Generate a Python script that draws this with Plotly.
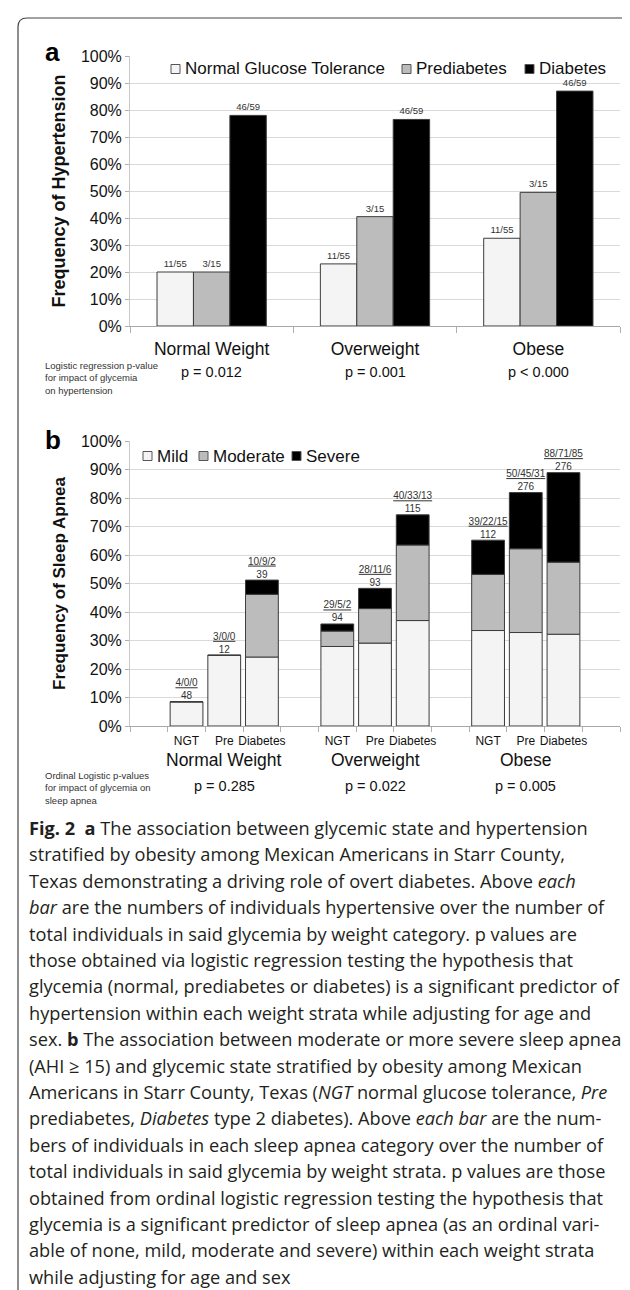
import plotly.graph_objects as go

W, H = 630, 1290

# ---------------- data: panel a ----------------
weight_cats = ["Normal Weight", "Overweight", "Obese"]
glyc_names = ["Normal Glucose Tolerance", "Prediabetes", "Diabetes"]
htn_ngt = [20.0, 23.0, 32.5]
htn_pre = [20.0, 40.5, 49.5]
htn_dm = [78.0, 76.5, 87.0]
htn_lbl_ngt = ["11/55", "11/55", "11/55"]
htn_lbl_pre = ["3/15", "3/15", "3/15"]
htn_lbl_dm = ["46/59", "46/59", "46/59"]
p_a = ["p = 0.012", "p = 0.001", "p < 0.000"]

# ---------------- data: panel b ----------------
sub_labels = ["NGT", "Pre", "Diabetes"]
severity_names = ["Mild", "Moderate", "Severe"]
apnea_mild = [8.5, 24.8, 24.2, 27.9, 29.1, 37.0, 33.5, 32.8, 32.2]
apnea_mod = [0.0, 0.0, 22.0, 5.4, 12.1, 26.5, 19.7, 29.4, 25.3]
apnea_sev = [0.0, 0.0, 5.0, 2.5, 7.1, 10.6, 12.0, 19.7, 31.4]
apnea_counts = ["4/0/0", "3/0/0", "10/9/2", "29/5/2", "28/11/6", "40/33/13",
                "39/22/15", "50/45/31", "88/71/85"]
apnea_totals = ["48", "12", "39", "94", "93", "115", "112", "276", "276"]
p_b = ["p = 0.285", "p = 0.022", "p = 0.005"]

# ---------------- styling ----------------
FONT = "Liberation Sans, Arial, sans-serif"
CAP_FONT = "Open Sans, Noto Sans, sans-serif"
C_LIGHT = "#f3f4f3"
C_GRAY = "#bcbcbc"
C_BLACK = "#000000"
EDGE = "#3c3c3c"
GRID = "#d9d9d9"
TXT = "#111111"
COLORS = [C_LIGHT, C_GRAY, C_BLACK]


def px_x(p):
    return p / W


def px_y(p):
    return 1 - p / H


X0, X1 = 122, 612
A_TOP, A_BOT = 48, 318
B_TOP, B_BOT = 433, 718

fig = go.Figure()

# panel a bars (manual grouping with overlay)
bw = 0.223
offs = [-0.3345, -0.1115, 0.1115]
xa = list(range(len(weight_cats)))
for vals, lbls, name, col, off in [
    (htn_ngt, htn_lbl_ngt, glyc_names[0], C_LIGHT, offs[0]),
    (htn_pre, htn_lbl_pre, glyc_names[1], C_GRAY, offs[1]),
    (htn_dm, htn_lbl_dm, glyc_names[2], C_BLACK, offs[2]),
]:
    fig.add_trace(go.Bar(
        x=xa, y=vals, width=bw, offset=off, name=name, showlegend=False,
        marker=dict(color=col, line=dict(color=EDGE, width=1)),
        text=lbls, textposition="outside", cliponaxis=False,
        textfont=dict(family=FONT, size=9.5, color="#333333"),
        xaxis="x", yaxis="y",
    ))

# panel b stacked bars (explicit bases)
xb = [g * 4 + s + 1 for g in range(3) for s in range(3)]
base_mod = apnea_mild
base_sev = [a + b for a, b in zip(apnea_mild, apnea_mod)]
tops = [a + b + c for a, b, c in zip(apnea_mild, apnea_mod, apnea_sev)]
for vals, base, name, col in [
    (apnea_mild, [0] * 9, severity_names[0], C_LIGHT),
    (apnea_mod, base_mod, severity_names[1], C_GRAY),
    (apnea_sev, base_sev, severity_names[2], C_BLACK),
]:
    fig.add_trace(go.Bar(
        x=xb, y=vals, base=base, width=0.87, name=name, showlegend=False,
        marker=dict(color=col, line=dict(color=EDGE, width=1)),
        xaxis="x2", yaxis="y2",
    ))

fig.add_trace(go.Scatter(
    x=xb, y=tops, mode="text",
    text=[f"<u>{c}</u><br>{t}" for c, t in zip(apnea_counts, apnea_totals)],
    textposition="top center", cliponaxis=False,
    textfont=dict(family=FONT, size=10, color="#333333"),
    showlegend=False, xaxis="x2", yaxis="y2", hoverinfo="skip",
))

yax_common = dict(
    range=[0, 100], dtick=10, ticksuffix="%", showgrid=True, gridcolor=GRID,
    gridwidth=1, zeroline=False, showline=True, linecolor="#c8c8c8",
    ticks="outside", ticklen=4, tickcolor="#b0b0b0",
    tickfont=dict(family=FONT, size=16, color=TXT), automargin=False,
)

fig.update_layout(
    width=W, height=H, margin=dict(l=0, r=0, t=0, b=0),
    paper_bgcolor="white", plot_bgcolor="white",
    barmode="overlay", showlegend=False,
    xaxis=dict(
        domain=[px_x(X0), px_x(X1)], anchor="y", range=[-0.5, 2.5],
        tickvals=xa, ticktext=weight_cats, ticks="", ticklabelstandoff=7,
        tickfont=dict(family=FONT, size=17.5, color=TXT),
        showline=True, linecolor="#a8a8a8", showgrid=False, zeroline=False,
        minor=dict(tickvals=[-0.5, 0.5, 1.5, 2.5], ticks="outside", ticklen=6,
                   tickcolor="#b0b0b0", showgrid=False),
        automargin=False,
    ),
    yaxis=dict(
        domain=[px_y(A_BOT), px_y(A_TOP)], anchor="x",
        title=dict(text="<b>Frequency of Hypertension</b>", standoff=10,
                   font=dict(family=FONT, size=18, color=TXT)),
        **yax_common,
    ),
    xaxis2=dict(
        domain=[px_x(X0), px_x(X1)], anchor="y2", range=[-0.5, 12.5],
        tickvals=xb, ticktext=sub_labels * 3, ticks="", ticklabelstandoff=4,
        tickfont=dict(family=FONT, size=12, color=TXT),
        showline=True, linecolor="#a8a8a8", showgrid=False, zeroline=False,
        minor=dict(tickvals=[i - 0.5 for i in range(14)], ticks="outside",
                   ticklen=5, tickcolor="#b0b0b0", showgrid=False),
        automargin=False,
    ),
    yaxis2=dict(
        domain=[px_y(B_BOT), px_y(B_TOP)], anchor="x2",
        title=dict(text="<b>Frequency of Sleep Apnea</b>", standoff=10,
                   font=dict(family=FONT, size=17, color=TXT)),
        **yax_common,
    ),
)

ann = []
shapes = []


# custom legends (small outlined squares + labels)
def add_legend(items, y_c, size=17):
    for (sq_x, label, col) in items:
        s = 9
        shapes.append(dict(type="rect", xref="paper", yref="paper",
                           x0=px_x(sq_x), x1=px_x(sq_x + s),
                           y0=px_y(y_c + s / 2), y1=px_y(y_c - s / 2),
                           fillcolor=col, line=dict(color="#555555", width=1)))
        ann.append(dict(text=label, x=px_x(sq_x + s + 3), y=px_y(y_c),
                        xref="paper", yref="paper", xanchor="left",
                        yanchor="middle", showarrow=False,
                        font=dict(family=FONT, size=size, color=TXT)))


add_legend(list(zip([163, 394, 517], glyc_names, COLORS)), 61)
add_legend(list(zip([135, 191, 284], severity_names, COLORS)), 448)

# panel letters
ann.append(dict(text="<b>a</b>", x=px_x(35), y=px_y(44), xref="paper", yref="paper",
                xanchor="left", yanchor="middle", showarrow=False,
                font=dict(family=FONT, size=26, color="#000")))
ann.append(dict(text="<b>b</b>", x=px_x(35), y=px_y(432), xref="paper", yref="paper",
                xanchor="left", yanchor="middle", showarrow=False,
                font=dict(family=FONT, size=26, color="#000")))
# p-values panel a
for i, p in enumerate(p_a):
    ann.append(dict(text=p, x=xa[i], xref="x", y=px_y(364), yref="paper",
                    xanchor="center", yanchor="middle", showarrow=False,
                    font=dict(family=FONT, size=14.5, color=TXT)))
ann.append(dict(text="Logistic regression p-value<br>for impact of glycemia<br>on hypertension",
                x=px_x(35), y=px_y(350), xref="paper", yref="paper", align="left",
                xanchor="left", yanchor="top", showarrow=False,
                font=dict(family=FONT, size=9.5, color="#333")))
# group labels panel b
for g, cat in enumerate(weight_cats):
    ann.append(dict(text=cat, x=g * 4 + 2, xref="x2", y=px_y(752), yref="paper",
                    xanchor="center", yanchor="middle", showarrow=False,
                    font=dict(family=FONT, size=17.5, color=TXT)))
    ann.append(dict(text=p_b[g], x=g * 4 + 2, xref="x2", y=px_y(778), yref="paper",
                    xanchor="center", yanchor="middle", showarrow=False,
                    font=dict(family=FONT, size=14.5, color=TXT)))
ann.append(dict(text="Ordinal Logistic p-values<br>for impact of glycemia on<br>sleep apnea",
                x=px_x(35), y=px_y(760), xref="paper", yref="paper", align="left",
                xanchor="left", yanchor="top", showarrow=False,
                font=dict(family=FONT, size=9.5, color="#333")))

caption = [
    "<b>Fig. 2  a</b> The association between glycemic state and hypertension",
    "stratified by obesity among Mexican Americans in Starr County,",
    "Texas demonstrating a driving role of overt diabetes. Above <i>each</i>",
    "<i>bar</i> are the numbers of individuals hypertensive over the number of",
    "total individuals in said glycemia by weight category. p values are",
    "those obtained via logistic regression testing the hypothesis that",
    "glycemia (normal, prediabetes or diabetes) is a significant predictor of",
    "hypertension within each weight strata while adjusting for age and",
    "sex. <b>b</b> The association between moderate or more severe sleep apnea",
    "(AHI \u2265 15) and glycemic state stratified by obesity among Mexican",
    "Americans in Starr County, Texas (<i>NGT</i> normal glucose tolerance, <i>Pre</i>",
    "prediabetes, <i>Diabetes</i> type 2 diabetes). Above <i>each bar</i> are the num-",
    "bers of individuals in each sleep apnea category over the number of",
    "total individuals in said glycemia by weight strata. p values are those",
    "obtained from ordinal logistic regression testing the hypothesis that",
    "glycemia is a significant predictor of sleep apnea (as an ordinal vari-",
    "able of none, mild, moderate and severe) within each weight strata",
    "while adjusting for age and sex",
]
cap_y0, cap_dy = 820, 26.4
for i, line in enumerate(caption):
    ann.append(dict(text=line, x=px_x(19), y=px_y(cap_y0 + i * cap_dy),
                    xref="paper", yref="paper", xanchor="left", yanchor="middle",
                    showarrow=False, align="left",
                    font=dict(family=CAP_FONT, size=18.2, color="#231f20")))

# border frame (rounded corners)
r = 9
x0b, x1b, y0b, y1b = 10, 628, 10, 1289
path = (f"M {px_x(x0b)},{px_y(y1b)} L {px_x(x0b)},{px_y(y0b + r)} "
        f"Q {px_x(x0b)},{px_y(y0b)} {px_x(x0b + r)},{px_y(y0b)} "
        f"L {px_x(x1b - r)},{px_y(y0b)} Q {px_x(x1b)},{px_y(y0b)} {px_x(x1b)},{px_y(y0b + r)} "
        f"L {px_x(x1b)},{px_y(y1b)}")
shapes.append(dict(type="path", path=path, xref="paper", yref="paper",
                   line=dict(color="#444444", width=1.2)))

fig.update_layout(annotations=ann, shapes=shapes)

fig.write_html("out.html")
